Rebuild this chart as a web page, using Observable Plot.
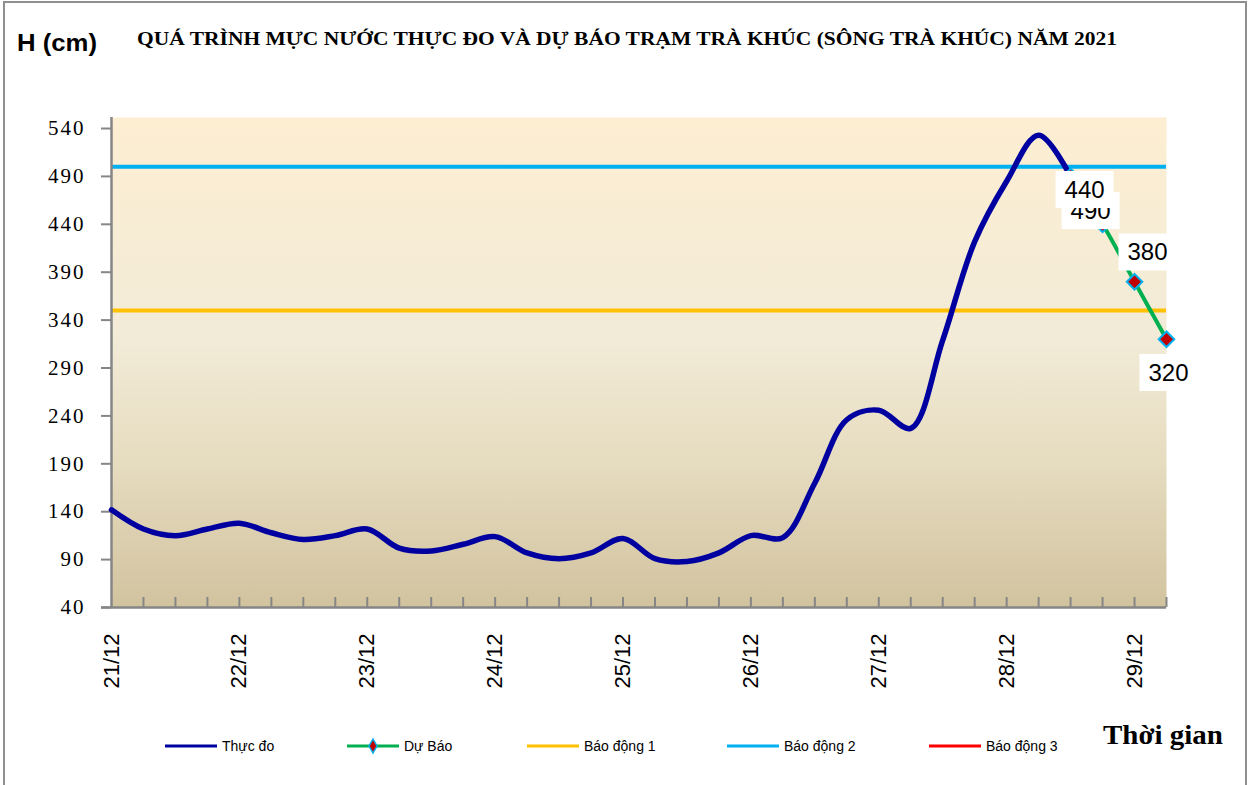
<!DOCTYPE html>
<html><head><meta charset="utf-8">
<script src="https://cdn.jsdelivr.net/npm/d3@7"></script>
<script src="https://cdn.jsdelivr.net/npm/@observablehq/plot@0.6"></script>
<style>
body{margin:0;background:#fff;}
#wrap{position:relative;width:1251px;height:785px;overflow:hidden;background:#fff;}
#border{position:absolute;left:3px;top:1px;width:1244px;height:820px;border:2px solid #8f8f8f;box-sizing:border-box;}
#chart{position:absolute;left:0;top:0;}
#overlay{position:absolute;left:0;top:0;}
</style></head>
<body><div id="wrap"><div id="border"></div><div id="chart"></div><svg id="overlay" width="1251" height="785"></svg></div>
<script>
// ---- data ----
const dateLabels = ["21/12","22/12","23/12","24/12","25/12","26/12","27/12","28/12","29/12"];
const observed = [142,122,115,122,128,118,111,115,122,102,99,106,114,97,91,97,112,91,88,97,115,113,170,236,246,227,319,422,485,533,490];
const forecast = [490,440,380,320];
const forecastStart = 30;
const alarm1 = 350, alarm2 = 500, alarm3 = 650;
const yTicks = [40,90,140,190,240,290,340,390,440,490,540];
const legendLabels = ["Thực đo","Dự Báo","Báo động 1","Báo động 2","Báo động 3"];
const titleText = "QUÁ TRÌNH MỰC NƯỚC THỰC ĐO VÀ DỰ BÁO TRẠM TRÀ KHÚC (SÔNG TRÀ KHÚC) NĂM 2021";
const yTitle = "H (cm)";
const xTitle = "Thời gian";

// ---- derived tables ----
const obs = observed.map((v, i) => ({i, v}));
const fc = forecast.map((v, k) => ({i: forecastStart + k, v}));
const nCat = forecastStart + forecast.length; // 34 categories
const allIdx = d3.range(1, nCat);
const labelIdx = dateLabels.map((d, k) => k * 4);

const C = {obs:"#0000a0", fc:"#00b050", a1:"#ffc000", a2:"#00b0f0", a3:"#ff0000", axis:"#868686"};

const label = (k, dx, dy) => Plot.text(fc.filter(d => d.i === forecastStart + k), {
  x: "i", y: "v", text: d => String(d.v), dx, dy,
  fontSize: 24, fontFamily: "Liberation Sans, Arial, sans-serif", fill: "#000"
});

const plot = Plot.plot({
  width: 1251, height: 700,
  marginLeft: 111, marginRight: 85, marginTop: 117, marginBottom: 93,
  x: {type: "linear", domain: [0, nCat - 1]},
  y: {domain: [40, 551.5]},
  style: {background: "transparent"},
  marks: [
    Plot.frame({fill: "#f0e8d0", stroke: null}),
    Plot.ruleY([alarm1], {stroke: C.a1, strokeWidth: 4}),
    Plot.ruleY([alarm2], {stroke: C.a2, strokeWidth: 4}),
    Plot.ruleY([alarm3], {stroke: C.a3, strokeWidth: 4, clip: true}),
    Plot.ruleX(allIdx, {x: d => d, y1: 40, y2: 40, insetTop: -10, stroke: C.axis, strokeWidth: 2}),
    Plot.ruleX([0], {stroke: C.axis, strokeWidth: 2.5}),
    Plot.ruleY([40], {stroke: C.axis, strokeWidth: 2.5, insetLeft: -10}),
    Plot.axisY({ticks: yTicks, tickSize: 10, tickPadding: 16, stroke: C.axis, strokeWidth: 2,
      fontSize: 21, fontFamily: "Liberation Serif, Times New Roman, serif", label: null, tickFormat: d => String(d)}),
    Plot.axisX({ticks: labelIdx, tickSize: 0, tickPadding: 26, tickRotate: -90,
      tickFormat: i => dateLabels[i / 4], fontSize: 22, fontFamily: "Liberation Sans, Arial, sans-serif", label: null}),
    Plot.line(obs, {x: "i", y: "v", curve: "catmull-rom", stroke: C.obs, strokeWidth: 5.5}),
    Plot.line(fc, {x: "i", y: "v", curve: "catmull-rom", stroke: C.fc, strokeWidth: 4}),
    Plot.dot(fc, {x: "i", y: "v", symbol: "diamond2", r: 7, fill: "#c00000", stroke: C.a2, strokeWidth: 2}),
    label(0, 20, 35),
    label(1, -18, -34),
    label(2, 13, -29),
    label(3, 2, 34)
  ]
});
document.getElementById("chart").appendChild(plot);

// background gradient
const svg = plot.tagName.toLowerCase() === "svg" ? plot : plot.querySelector("svg");
const defs = d3.select(svg).insert("defs", ":first-child");
const grad = defs.append("linearGradient").attr("id", "bgGrad").attr("x1", 0).attr("y1", 0).attr("x2", 0).attr("y2", 1);
[["0%", "#fdeed2"], ["45%", "#f2ebd7"], ["70%", "#e6dcc0"], ["100%", "#d2c39f"]].forEach(([o, c]) => grad.append("stop").attr("offset", o).attr("stop-color", c));
const fr = svg.querySelector('[aria-label="frame"]');
if (fr) { const r = fr.tagName === "rect" ? fr : fr.querySelector("rect"); if (r) r.setAttribute("fill", "url(#bgGrad)"); }

// y tick label letter spacing
svg.querySelectorAll('g[aria-label="y-axis tick label"] text').forEach(t => t.setAttribute("letter-spacing", "2"));

// white boxes behind forecast labels (the only text marks)
svg.querySelectorAll('g[aria-label="text"]').forEach(g => {
  g.querySelectorAll("text").forEach(t => {
    const b = t.getBBox();
    const r = document.createElementNS("http://www.w3.org/2000/svg", "rect");
    r.setAttribute("x", b.x - 9); r.setAttribute("y", b.y - 5);
    r.setAttribute("width", b.width + 18); r.setAttribute("height", b.height + 10);
    r.setAttribute("fill", "#fff");
    const tr = t.getAttribute("transform"); if (tr) r.setAttribute("transform", tr);
    t.parentNode.insertBefore(r, t);
  });
});

// overlay: titles and legend
const ov = d3.select("#overlay");
ov.append("text").attr("x", 137).attr("y", 45).attr("textLength", 980).attr("lengthAdjust", "spacingAndGlyphs")
  .attr("font-family", "Liberation Serif, Times New Roman, serif").attr("font-weight", "bold").attr("font-size", 19).text(titleText);
ov.append("text").attr("x", 17).attr("y", 51).attr("textLength", 80).attr("lengthAdjust", "spacingAndGlyphs")
  .attr("font-family", "Liberation Sans, Arial, sans-serif").attr("font-weight", "bold").attr("font-size", 23).text(yTitle);
ov.append("text").attr("x", 1103).attr("y", 744).attr("textLength", 120).attr("lengthAdjust", "spacingAndGlyphs")
  .attr("font-family", "Liberation Serif, Times New Roman, serif").attr("font-weight", "bold").attr("font-size", 28).text(xTitle);

const legColors = [C.obs, C.fc, C.a1, C.a2, C.a3];
const swX = [165, 347, 527, 727, 929];
legendLabels.forEach((lab, k) => {
  const g = ov.append("g");
  g.append("line").attr("x1", swX[k]).attr("x2", swX[k] + 52).attr("y1", 746).attr("y2", 746)
    .attr("stroke", legColors[k]).attr("stroke-width", 3);
  if (k === 1) {
    const cx = swX[k] + 26;
    g.append("path").attr("d", `M${cx},739L${cx+4},746L${cx},753L${cx-4},746Z`).attr("fill", "#c00000").attr("stroke", C.a2).attr("stroke-width", 1.5);
  }
  g.append("text").attr("x", swX[k] + 57).attr("y", 751).attr("font-family", "Liberation Sans, Arial, sans-serif")
    .attr("font-size", 14).attr("fill", "#000").text(lab);
});
</script>
</body></html>
